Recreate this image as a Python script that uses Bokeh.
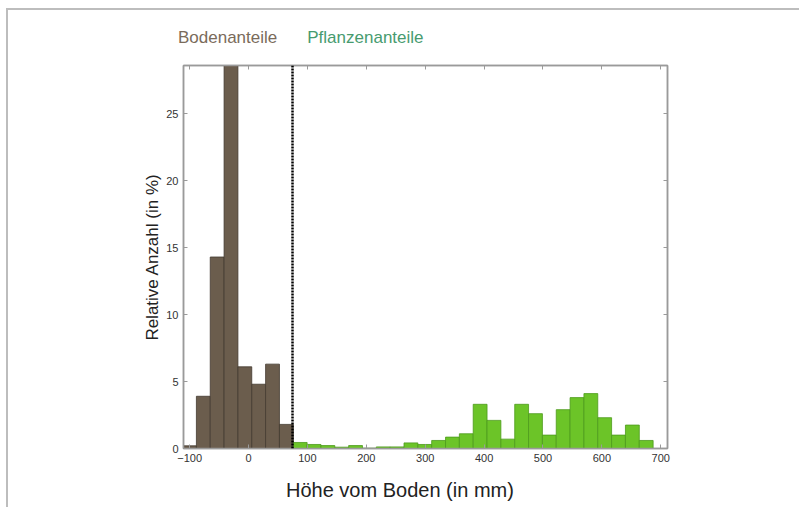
from bokeh.plotting import figure
from bokeh.models import LinearAxis, FixedTicker, Span, ColumnDataSource, Div
from bokeh.layouts import column
from bokeh.embed import file_html
from bokeh.resources import INLINE

# ---- data ----
soil_left = [-112, -88.5, -65, -41.5, -18, 5.5, 29, 52.5]
soil_right = [-88.5, -65, -41.5, -18, 5.5, 29, 52.5, 76]
soil_pct = [0.2, 3.9, 14.3, 29.0, 6.1, 4.8, 6.3, 1.8]

plant_left = [76, 99.5, 123, 146.5, 170, 193.5, 217, 240.5, 264, 287.5, 311, 334.5, 358,
              381.5, 405, 428.5, 452, 475.5, 499, 522.5, 546, 569.5, 593, 616.5, 640, 663.5]
plant_right = [99.5, 123, 146.5, 170, 193.5, 217, 240.5, 264, 287.5, 311, 334.5, 358, 381.5,
               405, 428.5, 452, 475.5, 499, 522.5, 546, 569.5, 593, 616.5, 640, 663.5, 687]
plant_pct = [0.45, 0.3, 0.22, 0.1, 0.22, 0.02, 0.12, 0.12, 0.42, 0.3, 0.6, 0.85, 1.1,
             3.3, 2.1, 0.7, 3.3, 2.6, 1.0, 2.9, 3.8, 4.1, 2.3, 1.0, 1.75, 0.6]

split_mm = 74.7
x_ticks = [-100, 0, 100, 200, 300, 400, 500, 600, 700]
y_ticks = [0, 5, 10, 15, 20, 25]
group_labels = ["Bodenanteile", "Pflanzenanteile"]
x_title = "Höhe vom Boden (in mm)"
y_title = "Relative Anzahl (in %)"

FONT = "Liberation Sans"
AX = "#9a9a9a"

p = figure(width=791, height=422, x_range=(-110.4, 711.4), y_range=(0, 28.6),
           output_backend="svg", toolbar_location=None,
           min_border_left=175, min_border_right=132, min_border_top=15, min_border_bottom=24)
p.grid.visible = False
p.outline_line_color = AX
p.outline_line_width = 1.5
p.background_fill_color = "white"
p.border_fill_color = "white"

soil = ColumnDataSource(dict(left=soil_left, right=soil_right, top=soil_pct))
plant = ColumnDataSource(dict(left=plant_left, right=plant_right, top=plant_pct))
p.quad(left="left", right="right", bottom=0, top="top", source=soil,
       fill_color="#6b5d4d", line_color="#433a30", line_width=0.8)
p.quad(left="left", right="right", bottom=0, top="top", source=plant,
       fill_color="#6cc428", line_color="#4c9a1c", line_width=0.8)

p.xaxis.ticker = FixedTicker(ticks=x_ticks)
p.yaxis.ticker = FixedTicker(ticks=y_ticks)
p.yaxis.axis_label = y_title
p.yaxis.axis_label_standoff = 1
for ax in (p.xaxis[0], p.yaxis[0]):
    ax.axis_line_color = AX
    ax.axis_line_width = 1.5
    ax.major_tick_in = 4
    ax.major_tick_out = 0
    ax.major_tick_line_color = AX
    ax.minor_tick_line_color = None
    ax.major_label_text_font = FONT
    ax.major_label_text_font_size = "11px"
    ax.major_label_text_color = "#333333"
    ax.major_label_standoff = 5
    ax.axis_label_text_font = FONT
    ax.axis_label_text_font_size = "17px"
    ax.axis_label_text_font_style = "normal"
    ax.axis_label_text_color = "#222222"

top_ax = LinearAxis(ticker=FixedTicker(ticks=x_ticks))
right_ax = LinearAxis(ticker=FixedTicker(ticks=y_ticks))
for ax in (top_ax, right_ax):
    ax.axis_line_color = AX
    ax.axis_line_width = 1.5
    ax.major_tick_in = 4
    ax.major_tick_out = 0
    ax.major_tick_line_color = AX
    ax.minor_tick_line_color = None
    ax.major_label_text_color = None
p.add_layout(top_ax, "above")
p.add_layout(right_ax, "right")

# dashed divider between soil and plant parts
p.add_layout(Span(location=split_mm, dimension="height", line_color="black",
                  line_width=2.5, line_dash="2 1"))

header = Div(
    text=(f'<div style="padding:18px 0 0 170px; line-height:20px; white-space:nowrap; '
          f'font-family:\'{FONT}\'; font-size:17px;">'
          f'<span style="color:#7a6b5b">{group_labels[0]}</span>'
          f'<span style="color:#479b6f; margin-left:30px">{group_labels[1]}</span></div>'),
    width=791, height=40, margin=0)

footer = Div(
    text=(f'<div style="padding:6px 0 0 278px; line-height:24px; white-space:nowrap; '
          f'font-family:\'{FONT}\'; font-size:20px; color:#222222;">{x_title}</div>'),
    width=791, height=35, margin=0)

layout = column(header, p, footer, spacing=0,
                styles={"margin-top": "8px", "margin-left": "6px",
                        "border-top": "2px solid #bdbdbd", "border-left": "2px solid #bdbdbd",
                        "background-color": "white"})

open("out.html", "w").write(file_html(layout, INLINE))
